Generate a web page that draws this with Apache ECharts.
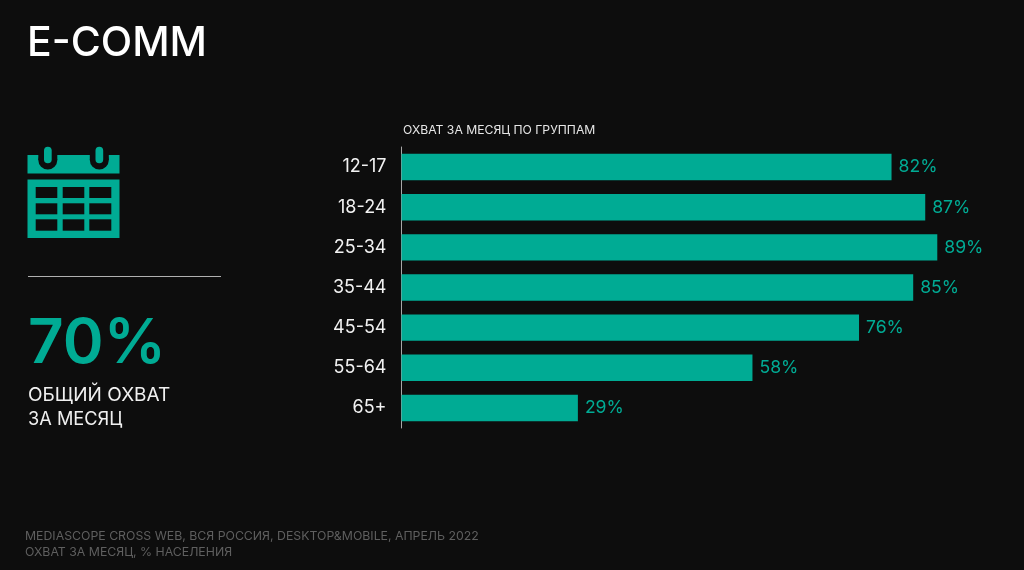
<!DOCTYPE html>
<html><head><meta charset="utf-8">
<style>html,body{margin:0;padding:0;background:#0d0d0d}#c{width:1024px;height:570px}</style>
<script src="https://cdn.jsdelivr.net/npm/echarts@6/dist/echarts.min.js"></script>
</head><body><div id="c"></div>
<script>
const categories = ['12-17','18-24','25-34','35-44','45-54','55-64','65+'];
const barValues = [81.4,87.0,89.0,85.0,76.0,58.3,29.3];
const valueLabels = ['82%','87%','89%','85%','76%','58%','29%'];
const TEAL='#00ab94', BG='#0d0d0d', FONT='Inter, "Noto Sans", sans-serif';
const rect=(x,y,w,h,fill)=>({type:'rect',shape:{x,y,width:w,height:h},style:{fill}});
const txt=(x,y,text,size,fill,extra)=>({type:'text',x,y,style:Object.assign({text,fontSize:size,fill,fontFamily:FONT,verticalAlign:'middle'},extra||{})});
const cellX=[[35.7,21.6],[62.7,21.6],[89.3,22]], cellY=[[187,11],[203.3,11],[219.3,11.4]];
const cells=[];
cellY.forEach(r=>cellX.forEach(c=>cells.push(rect(c[0],r[0],c[1],r[1],BG))));
const chart=echarts.init(document.getElementById('c'),null,{renderer:'canvas'});
chart.setOption({
  backgroundColor:BG,animation:false,
  grid:{left:401.5,top:147,width:602,height:281,containLabel:false},
  xAxis:{type:'value',min:0,max:100,show:false},
  yAxis:{type:'category',inverse:true,data:categories,
    axisLine:{show:true,lineStyle:{color:'#a8a8a8',width:1}},axisTick:{show:false},
    axisLabel:{color:'#f2f2f2',fontSize:18,fontFamily:FONT,margin:15}},
  series:[{type:'bar',data:barValues,barWidth:26.4,itemStyle:{color:TEAL},
    label:{show:true,position:'right',distance:7,fontSize:17.6,fontFamily:FONT,color:TEAL,
      formatter:p=>valueLabels[p.dataIndex]}}],
  graphic:[
    txt(27,44,'E-COMM',41,'#ffffff',{fontWeight:500}),
    txt(403,130,'ОХВАТ ЗА МЕСЯЦ ПО ГРУППАМ',12.2,'#e6e6e6'),
    rect(27.5,155,92,18.5,TEAL),
    {type:'circle',shape:{cx:47.8,cy:160,r:9.5},style:{fill:BG}},
    {type:'circle',shape:{cx:99.3,cy:160,r:9.5},style:{fill:BG}},
    rect(38.3,150,19,10,BG),rect(89.8,150,19,10,BG),
    {type:'rect',shape:{x:44,y:146.7,width:7.7,height:16.6,r:3.8},style:{fill:TEAL}},
    {type:'rect',shape:{x:95.5,y:146.7,width:7.7,height:16.6,r:3.8},style:{fill:TEAL}},
    rect(27.5,179.5,92,58.5,TEAL),
    ...cells,
    rect(28,276,193,1,'#b0b0b0'),
    txt(28,344,'70%',62,TEAL,{fontWeight:600}),
    txt(28,395,'ОБЩИЙ ОХВАТ',19,'#f0f0f0'),
    txt(28,420,'ЗА МЕСЯЦ',18.2,'#f0f0f0'),
    txt(25,536,'MEDIASCOPE CROSS WEB, ВСЯ РОССИЯ, DESKTOP&MOBILE, АПРЕЛЬ 2022',12.3,'#5f5f5f'),
    txt(25,552,'ОХВАТ ЗА МЕСЯЦ, % НАСЕЛЕНИЯ',12.3,'#5f5f5f')
  ]
});
</script></body></html>
